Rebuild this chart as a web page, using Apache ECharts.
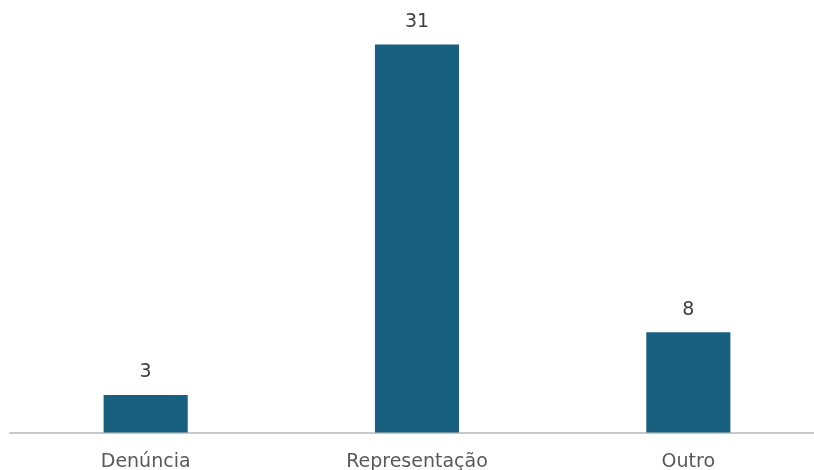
<!DOCTYPE html>
<html><head><meta charset="utf-8">
<script src="https://cdn.jsdelivr.net/npm/echarts@6/dist/echarts.min.js"></script>
<style>html,body{margin:0;padding:0;background:#fff}#c{width:814px;height:470px}</style>
</head><body><div id="c"></div>
<script>
const categories = ['Denúncia', 'Representação', 'Outro'];
const values = [3, 31, 8];

const chart = echarts.init(document.getElementById('c'), null, {renderer: 'canvas'});
chart.setOption({
  animation: false,
  grid: {left: 10, width: 814, top: 44.5, bottom: 37.5, containLabel: false, outerBoundsMode: 'none'},
  xAxis: {
    type: 'category', data: categories,
    axisLine: {lineStyle: {color: '#c8c8c8', width: 2}},
    axisTick: {show: false},
    axisLabel: {color: '#595959', fontSize: 19, fontFamily: 'DejaVu Sans', margin: 20}
  },
  yAxis: {type: 'value', min: 0, max: 31, show: false, splitLine: {show: false}},
  series: [{
    type: 'bar', data: values, barWidth: '31%',
    itemStyle: {color: '#185f80'},
    label: {show: true, position: 'top', distance: 13, color: '#404040', fontSize: 19, fontFamily: 'DejaVu Sans'}
  }]
});
</script></body></html>
